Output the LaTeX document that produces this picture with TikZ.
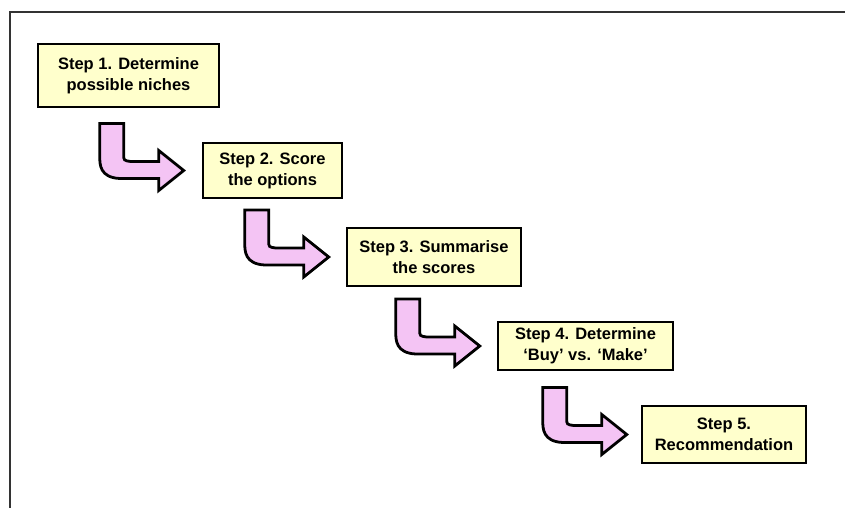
\documentclass[tikz,border=0pt]{standalone}
\usepackage{fontspec}
\setmainfont{Liberation Sans}
\usepackage{xcolor}
\usepackage{tikz}
\usetikzlibrary{positioning}
\definecolor{notepaper}{RGB}{255,255,204}
\definecolor{turnpink}{RGB}{244,196,244}

\begin{document}
\begin{tikzpicture}[x=1pt,y=-1pt,
        box/.style={draw,line width=2.5pt,fill=notepaper,rectangle,align=center,
            inner sep=0pt,font=\fontsize{16.5}{21}\selectfont\bfseries},
        turn/.pic={
            \draw[line width=2.8pt,fill=turnpink,line join=miter]
                (-84,-47) -- (-60,-47) -- (-60,-16)
                .. controls (-60,-10) .. (-53,-9) -- (-25,-9) -- (-25,-20)
                -- (0,0) -- (-25,20) -- (-25,8) -- (-64,8)
                .. controls (-84,7) and (-84,-6) .. (-84,-14) -- cycle;
        }]
    \useasboundingbox (0,0) rectangle (845,508);
    \draw[line width=2pt,black!80] (10,508) -- (10,12) -- (845,12);

    \node (step1) [box,minimum width=181pt,minimum height=63pt] at (128.5,75.5)
        {Step 1. Determine \\ possible niches};
    \node (step2) [box,minimum width=139pt,minimum height=55pt] at (272.5,170.5)
        {Step 2. Score \\ the options};
    \node (step3) [box,minimum width=174pt,minimum height=58pt] at (434,257)
        {Step 3. Summarise \\ the scores};
    \node (step4) [box,minimum width=175pt,minimum height=48pt] at (585.5,346)
        {Step 4. Determine \\ `Buy' vs. `Make'};
    \node (step5) [box,minimum width=164pt,minimum height=57pt] at (724,434.5)
        {Step 5. \\ Recommendation};

    \pic at ([xshift=-18pt]step2.west) {turn};
    \pic at ([xshift=-17pt]step3.west) {turn};
    \pic at ([xshift=-17pt]step4.west) {turn};
    \pic at ([xshift=-14pt]step5.west) {turn};
\end{tikzpicture}
\end{document}
